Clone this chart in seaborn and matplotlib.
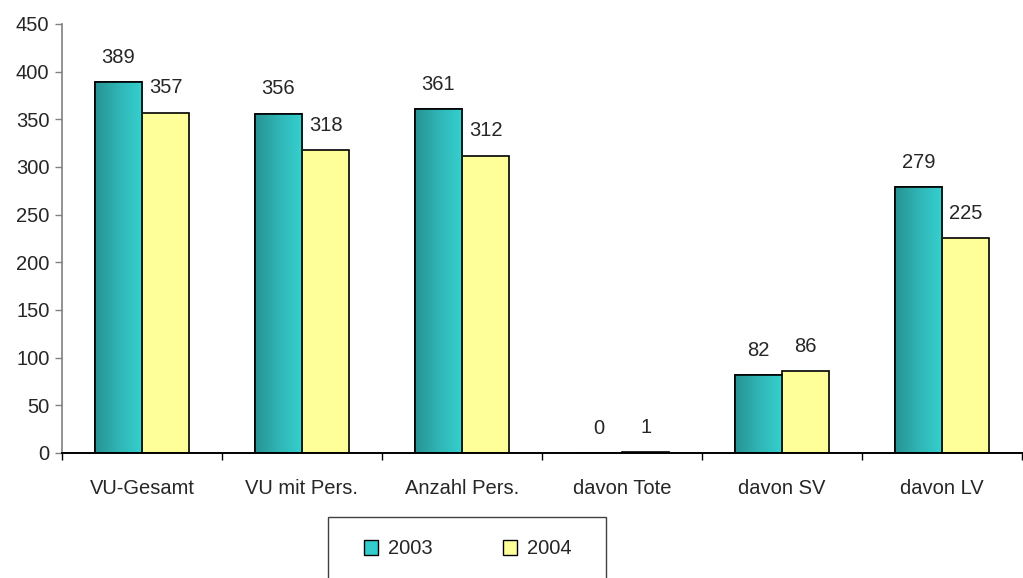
import numpy as np
import pandas as pd
import matplotlib
matplotlib.use("Agg")
import matplotlib.pyplot as plt
import seaborn as sns
from matplotlib.patches import Patch, Rectangle
from matplotlib.colors import LinearSegmentedColormap

# data
categories = ["VU-Gesamt", "VU mit Pers.", "Anzahl Pers.", "davon Tote", "davon SV", "davon LV"]
years = ["2003", "2004"]
values_2003 = [389, 356, 361, 0, 82, 279]
values_2004 = [357, 318, 312, 1, 86, 225]

df = pd.DataFrame({
    "cat": categories * 2,
    "year": [years[0]] * 6 + [years[1]] * 6,
    "value": values_2003 + values_2004,
})

sns.set_style("white")
plt.rcParams["font.family"] = ["Liberation Sans", "DejaVu Sans"]
fs = 14.5

teal = "#33CCCC"
yellow = "#FFFF99"

fig = plt.figure(figsize=(10.23, 5.78), dpi=100)
ax = fig.add_axes([0.0606, 0.2163, 0.9384, 0.7422])

sns.barplot(data=df, x="cat", y="value", hue="year", palette=[teal, yellow],
            width=0.59, edgecolor="black", linewidth=1.2, saturation=1,
            legend=False, ax=ax)

# gradient fill on the 2003 bars
grad = LinearSegmentedColormap.from_list("tg", ["#279393", "#30b5b5", "#36d0d0"])
gimg = np.linspace(0, 1, 64).reshape(1, -1)
for bar in ax.containers[0]:
    x0, y0 = bar.get_x(), bar.get_y()
    w, h = bar.get_width(), bar.get_height()
    if h <= 0:
        continue
    im = ax.imshow(gimg, cmap=grad, aspect="auto", extent=[x0, x0 + w, y0, y0 + h],
                   zorder=bar.get_zorder() + 0.1)
    im.set_clip_path(bar)
    ax.add_patch(plt.Rectangle((x0, y0), w, h, fill=False, edgecolor="black",
                               linewidth=1.2, zorder=bar.get_zorder() + 0.2))

for cont in ax.containers:
    ax.bar_label(cont, padding=11, fontsize=fs)

ax.set_xlim(-0.5, 5.5)
ax.set_ylim(0, 450)
ax.set_yticks(range(0, 451, 50))
ax.set_xlabel("")
ax.set_ylabel("")

for s in ["top", "right"]:
    ax.spines[s].set_visible(False)
ax.spines["left"].set_color("#808080")
ax.spines["left"].set_linewidth(1.2)
ax.spines["bottom"].set_color("black")
ax.spines["bottom"].set_linewidth(1.4)
ax.spines["bottom"].set_zorder(5)

ax.tick_params(axis="y", which="major", left=True, length=5, width=1, color="#808080",
               labelsize=fs, pad=4)
ax.tick_params(axis="x", which="major", bottom=False, labelsize=fs, pad=15)
ax.set_xticks(np.arange(-0.5, 5.6, 1), minor=True)
ax.tick_params(axis="x", which="minor", bottom=True, length=5, width=1, color="black")

# legend box (runs off the bottom edge like the original)
W, H = 1023, 578
fig.patches.append(Rectangle((328 / W, 1 - 640 / H), (606 - 328) / W, (640 - 517) / H,
                             transform=fig.transFigure, fill=False,
                             edgecolor="#404040", linewidth=1))

handles = [Patch(facecolor=teal, edgecolor="black", label="2003"),
           Patch(facecolor=yellow, edgecolor="black", label="2004")]
leg = fig.legend(handles=handles, loc="center left", ncol=2,
                 bbox_to_anchor=(364 / W, 1 - 549 / H),
                 frameon=False, fontsize=fs,
                 handlelength=0.7, handleheight=0.7, handletextpad=0.5,
                 columnspacing=3.5, borderpad=0, borderaxespad=0)

fig.savefig("out.png", dpi=100)
